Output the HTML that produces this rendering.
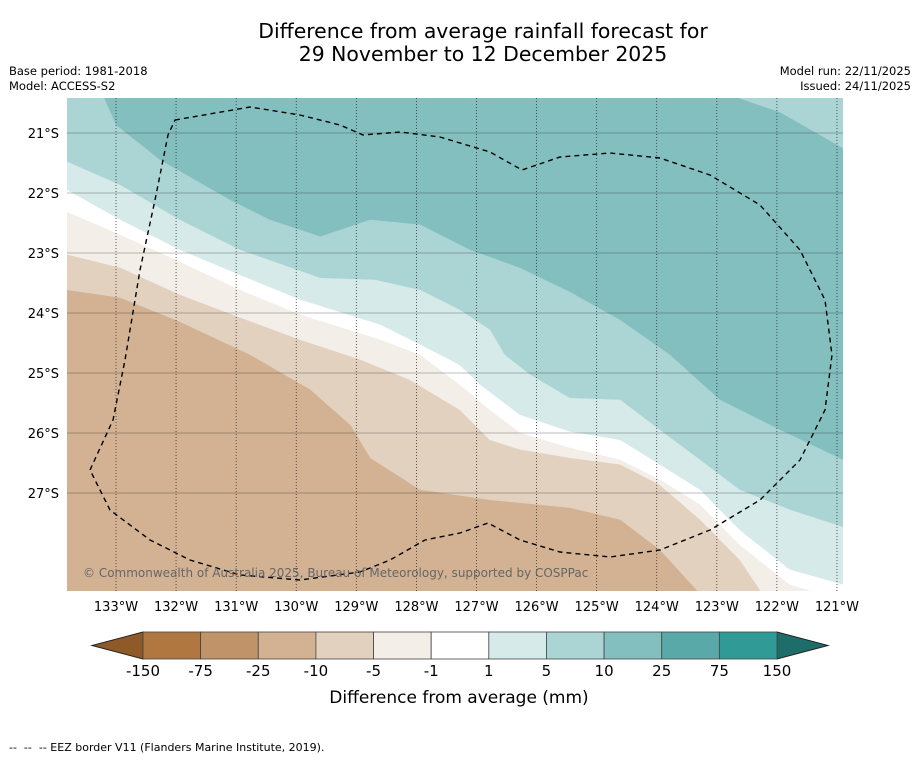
<!DOCTYPE html>
<html><head><meta charset="utf-8"><style>
body{margin:0;background:#fff;font-family:"DejaVu Sans","Liberation Sans",sans-serif}
</style></head><body>
<svg width="919" height="758" viewBox="0 0 919 758" xmlns="http://www.w3.org/2000/svg" font-family="DejaVu Sans, Liberation Sans, sans-serif">
<rect width="919" height="758" fill="#fff"/>
<text x="483" y="38" font-size="20.4" text-anchor="middle">Difference from average rainfall forecast for</text>
<text x="483" y="61" font-size="20.4" text-anchor="middle">29 November to 12 December 2025</text>
<text x="9" y="75" font-size="11.5">Base period: 1981-2018</text>
<text x="9" y="90" font-size="11.5">Model: ACCESS-S2</text>
<text x="911" y="75" font-size="11.5" text-anchor="end">Model run: 22/11/2025</text>
<text x="911" y="90" font-size="11.5" text-anchor="end">Issued: 24/11/2025</text>
<defs><clipPath id="mc"><rect x="67" y="98" width="776" height="493"/></clipPath></defs>
<g id="map" clip-path="url(#mc)"></g>
<g id="axes"></g>
<g id="cbar"></g>
<text x="459" y="703" font-size="17" text-anchor="middle">Difference from average (mm)</text>
<text x="9" y="751" font-size="11" xml:space="preserve" style="white-space:pre">--  --  -- EEZ border V11 (Flanders Marine Institute, 2019).</text>
</svg>
<script>
const NS="http://www.w3.org/2000/svg";
const lonTicks=[133,132,131,130,129,128,127,126,125,124,123,122,121];
const latTicks=[21,22,23,24,25,26,27];
const levels=["-150","-75","-25","-10","-5","-1","1","5","10","25","75","150"];
const bandColors=["#b07840","#c09468","#d2b293","#e3d1bf","#f3eee8","#ffffff","#d6eaea","#abd5d5","#84bfbf","#58a9a8","#2f9a96"];
const b1Lon=[133.2,133.0,132.27,131.1,130.44,129.6,128.77,127.94,127.11,126.28,125.45,124.61,123.78,122.95,121.95,120.9];
const b1Lat=[20.42,20.87,21.45,22.12,22.45,22.73,22.45,22.53,22.95,23.25,23.65,24.12,24.7,25.45,25.95,26.45];
const cornerLon=[122.62,121.95,120.9];
const cornerLat=[20.42,20.65,21.25];
const b2Lon=[133.82,132.93,131.94,130.94,129.6,128.69,127.94,127.28,126.78,126.53,126.11,125.45,124.61,123.95,123.28,122.62,121.79,120.9];
const b2Lat=[21.48,21.87,22.45,22.95,23.42,23.45,23.62,23.95,24.28,24.7,25.03,25.42,25.45,25.95,26.45,26.95,27.28,27.57];
const b3Lon=[133.82,132.93,131.94,130.94,129.94,128.6,127.94,127.28,126.94,126.28,125.45,124.61,123.95,123.28,122.62,121.79,120.9];
const b3Lat=[21.95,22.45,22.95,23.37,23.78,24.2,24.53,24.87,25.2,25.7,25.98,26.12,26.53,26.95,27.62,28.28,28.53];
const b4Lon=[133.82,132.93,131.94,130.94,129.94,128.6,127.94,127.28,126.78,126.28,125.45,124.61,123.95,123.28,122.62,121.79,121.45];
const b4Lat=[22.32,22.7,23.15,23.62,24.03,24.45,24.7,25.2,25.62,26.0,26.25,26.45,26.78,27.2,27.87,28.53,28.63];
const b5Lon=[133.82,132.93,131.94,130.94,129.94,128.94,128.11,127.28,126.78,126.28,125.45,124.61,123.95,123.28,122.62,122.28];
const b5Lat=[23.03,23.25,23.7,24.08,24.45,24.78,25.12,25.62,26.12,26.28,26.42,26.53,26.87,27.45,28.12,28.63];
const b6Lon=[133.82,132.93,131.94,130.77,129.77,129.1,128.77,127.94,126.78,125.45,124.61,123.95,123.33];
const b6Lat=[23.62,23.75,24.15,24.7,25.28,25.87,26.42,26.95,27.12,27.25,27.45,27.95,28.63];
function xs(lonW){return 116+(133-lonW)*60.08;}
function ys(latS){return 133+(latS-21)*60;}
const L=67,R=843,T=98,B=591;
const map=document.getElementById('map');
function poly(pts,fill,name){
  const p=document.createElementNS(NS,'path');
  p.setAttribute('d','M'+pts.map(q=>q[0].toFixed(1)+','+q[1].toFixed(1)).join('L')+'Z');
  p.setAttribute('fill',fill);
  p.setAttribute('stroke',fill);p.setAttribute('stroke-width','0.5');
  
  
  map.appendChild(p);
}
function pts(lo,la){return lo.map((v,i)=>[xs(v),ys(la[i])]);}
const bg=document.createElementNS(NS,'rect');
bg.setAttribute('x',L);bg.setAttribute('y',T);bg.setAttribute('width',R-L);bg.setAttribute('height',B-T);bg.setAttribute('fill',bandColors[8]);


map.appendChild(bg);
poly(pts(b1Lon,b1Lat).concat([[R+5,B+5],[L-5,B+5],[L-5,T-5]]),bandColors[7],'band-5-10');
poly(pts(cornerLon,cornerLat).concat([[R+5,T-5]]),bandColors[7],'band-5-10-corner');
poly(pts(b2Lon,b2Lat).concat([[R+5,B+5],[L-5,B+5]]),bandColors[6],'band-1-5');
poly(pts(b3Lon,b3Lat).concat([[R+5,B+5],[L-5,B+5]]),bandColors[5],'band-neutral');
poly(pts(b4Lon,b4Lat).concat([[L-5,B+5]]),bandColors[4],'band-minus1-5');
poly(pts(b5Lon,b5Lat).concat([[L-5,B+5]]),bandColors[3],'band-minus5-10');
poly(pts(b6Lon,b6Lat).concat([[L-5,B+5]]),bandColors[2],'band-minus10-25');
lonTicks.forEach(v=>{
  const l=document.createElementNS(NS,'line');
  l.setAttribute('x1',xs(v));l.setAttribute('x2',xs(v));l.setAttribute('y1',T);l.setAttribute('y2',B);
  l.setAttribute('stroke','#333');l.setAttribute('stroke-width','0.8');l.setAttribute('stroke-dasharray','1,2');
  
  
  map.appendChild(l);
});
latTicks.forEach(v=>{
  const l=document.createElementNS(NS,'line');
  l.setAttribute('x1',L);l.setAttribute('x2',R);l.setAttribute('y1',ys(v));l.setAttribute('y2',ys(v));
  l.setAttribute('stroke','#000');l.setAttribute('stroke-opacity','0.25');l.setAttribute('stroke-width','1');
  
  
  map.appendChild(l);
});
const eez=document.createElementNS(NS,'path');
eez.setAttribute('d','M175,120L250,107L300,115L340,125L363,135L400,132L440,137L490,152L522,170L560,157L610,153L660,158L710,175L760,205L800,250L825,300L832,355L825,410L800,460L760,500L710,530L660,550L610,557L560,552L520,540L488,523L460,533L425,540L390,560L360,572L300,580L240,575L190,560L150,540L110,510L90,470L113,420L125,360L140,270L155,200L168,135Z');
eez.setAttribute('fill','none');eez.setAttribute('stroke','#000');eez.setAttribute('stroke-width','1.4');eez.setAttribute('stroke-dasharray','5,4');


map.appendChild(eez);
const cp=document.createElementNS(NS,'text');
cp.setAttribute('x',83);cp.setAttribute('y',577);cp.setAttribute('font-size','12');cp.setAttribute('fill','#666');
cp.textContent='© Commonwealth of Australia 2025, Bureau of Meteorology, supported by COSPPac';


map.appendChild(cp);
const ax=document.getElementById('axes');
lonTicks.forEach(v=>{
  const t=document.createElementNS(NS,'text');
  t.setAttribute('x',xs(v));t.setAttribute('y',611);t.setAttribute('font-size','13');t.setAttribute('text-anchor','middle');
  t.textContent=v+'°W';
  
  
  ax.appendChild(t);
});
latTicks.forEach(v=>{
  const t=document.createElementNS(NS,'text');
  t.setAttribute('x',59);t.setAttribute('y',ys(v)+5);t.setAttribute('font-size','13');t.setAttribute('text-anchor','end');
  t.textContent=v+'°S';
  
  
  ax.appendChild(t);
});
const cb=document.getElementById('cbar');
const cx0=143,cx1=777,cy0=632,cy1=659,n=11,w=(cx1-cx0)/n;
const lt=document.createElementNS(NS,'path');
lt.setAttribute('d',`M${cx0},${cy0}L92,${(cy0+cy1)/2}L${cx0},${cy1}Z`);lt.setAttribute('fill','#8e5a28');lt.setAttribute('stroke','#222');


cb.appendChild(lt);
const rt=document.createElementNS(NS,'path');
rt.setAttribute('d',`M${cx1},${cy0}L828,${(cy0+cy1)/2}L${cx1},${cy1}Z`);rt.setAttribute('fill','#1d6e6a');rt.setAttribute('stroke','#222');


cb.appendChild(rt);
bandColors.forEach((c,i)=>{
  const r=document.createElementNS(NS,'rect');
  r.setAttribute('x',cx0+i*w);r.setAttribute('y',cy0);r.setAttribute('width',w);r.setAttribute('height',cy1-cy0);
  r.setAttribute('fill',c);r.setAttribute('stroke','#444');r.setAttribute('stroke-width','0.8');
  
  
  cb.appendChild(r);
});
levels.forEach((s,i)=>{
  const t=document.createElementNS(NS,'text');
  t.setAttribute('x',cx0+i*w);t.setAttribute('y',676);t.setAttribute('font-size','15');t.setAttribute('text-anchor','middle');
  t.textContent=s;
  
  
  cb.appendChild(t);
});
</script>
</body></html>
